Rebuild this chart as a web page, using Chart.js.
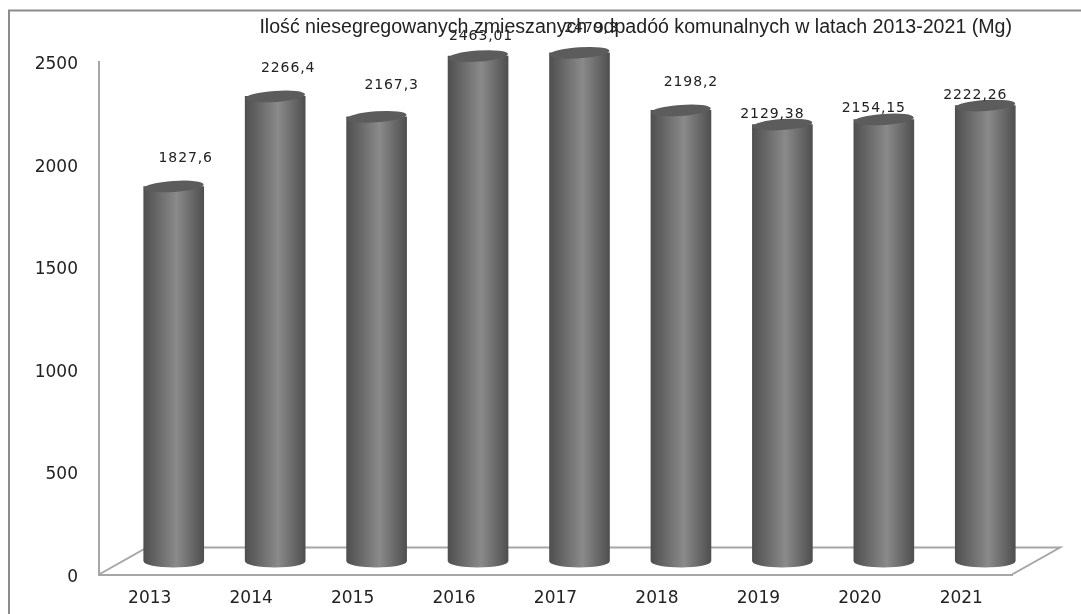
<!DOCTYPE html>
<html>
<head>
<meta charset="utf-8">
<style>
  html, body { margin: 0; padding: 0; background: #fff; }
  #wrap { width: 1081px; height: 614px; }
</style>
</head>
<body>
<div id="wrap"><canvas id="myChart" width="1081" height="614"></canvas></div>
<script src="https://cdn.jsdelivr.net/npm/chart.js@4"></script>
<script>
const years = ['2013', '2014', '2015', '2016', '2017', '2018', '2019', '2020', '2021']
const amounts = [1827.6, 2266.4, 2167.3, 2463.01, 2479.3, 2198.2, 2129.38, 2154.15, 2222.26]
const amountLabels = ['1827,6', '2266,4', '2167,3', '2463,01', '2479,3', '2198,2', '2129,38', '2154,15', '2222,26']
const yTicks = [0, 500, 1000, 1500, 2000, 2500]
const titleText = 'Ilość niesegregowanych zmieszanych odpadóó komunalnych w latach 2013-2021 (Mg)'

// the 3D look: floor depth, and how far the cylinders stand back from the axis
const depthX = 48, depthY = 27
const barShiftX = 24, barShiftY = 13
// label shift from the middle of each cylinder top, hand placed like in the original
const labelDx = [12, 13, 15, 3, 12, 10, -10, -10, -10]
const labelDy = [-28, -28, -31, -20, -24, -28, -10, -11, -10]

const cylinderGradient = (ctx, x, half) => {
  const g = ctx.createLinearGradient(x - half, 0, x + half, 0)
  g.addColorStop(0, '#4f4f4f')
  g.addColorStop(0.55, '#8a8a8a')
  g.addColorStop(1, '#4f4f4f')
  return g
}

const frameAndFloor = {
  id: 'frameAndFloor',
  beforeDatasetsDraw(chart) {
    const { ctx, chartArea: a } = chart
    ctx.save()
    ctx.strokeStyle = '#a6a6a6'
    ctx.lineWidth = 2
    ctx.beginPath()
    ctx.moveTo(a.left, a.bottom)
    ctx.lineTo(a.left + depthX, a.bottom - depthY)
    ctx.lineTo(a.right + depthX, a.bottom - depthY)
    ctx.lineTo(a.right, a.bottom)
    ctx.stroke()
    // outer border of the picture
    ctx.strokeStyle = '#8c8c8c'
    ctx.beginPath()
    ctx.moveTo(9, 614)
    ctx.lineTo(9, 10.5)
    ctx.lineTo(1081, 10.5)
    ctx.stroke()
    ctx.restore()
  },
}

const cylinders = {
  id: 'cylinders',
  beforeDatasetsDraw(chart) {
    const ctx = chart.ctx
    ctx.save()
    ctx.translate(barShiftX, -barShiftY)
    chart.getDatasetMeta(0).data.forEach((bar) => {
      // bottom cap first, the bar body covers its upper half
      const rx = bar.width / 2
      ctx.fillStyle = cylinderGradient(ctx, bar.x, rx)
      ctx.beginPath()
      ctx.ellipse(bar.x, bar.base, rx, 6, 0, 0, Math.PI * 2)
      ctx.fill()
    })
  },
  afterDatasetsDraw(chart) {
    const ctx = chart.ctx
    chart.getDatasetMeta(0).data.forEach((bar, i) => {
      ctx.fillStyle = '#5c5c5c'
      ctx.beginPath()
      ctx.ellipse(bar.x, bar.y, bar.width / 2, 5.5, -0.07, 0, Math.PI * 2)
      ctx.fill()
      ctx.fillStyle = '#222'
      ctx.font = '14px "DejaVu Sans"'
      ctx.letterSpacing = '0.9px'
      ctx.textAlign = 'center'
      ctx.textBaseline = 'middle'
      ctx.fillText(amountLabels[i], bar.x + labelDx[i], bar.y + labelDy[i])
    })
    ctx.restore()
  },
}

new Chart(document.getElementById('myChart'), {
  type: 'bar',
  plugins: [frameAndFloor, cylinders],
  data: {
    labels: years,
    datasets: [{
      label: 'Mg',
      data: amounts,
      backgroundColor(context) {
        const { chart, dataIndex } = context
        const x = chart.scales.x ? chart.scales.x.getPixelForValue(dataIndex) : NaN
        if (!Number.isFinite(x)) return '#777'
        return cylinderGradient(chart.ctx, x, 30)
      },
      barThickness: 60,
    }],
  },
  options: {
    responsive: false,
    animation: false,
    layout: { padding: { left: 0, right: 69, top: 0, bottom: 0 } },
    plugins: {
      legend: { display: false },
      tooltip: { enabled: false },
      title: {
        display: true,
        text: titleText,
        align: 'end',
        color: '#222',
        font: { family: '"Liberation Sans"', size: 19.6, weight: 'normal' },
        padding: { top: 16, bottom: 22 },
      },
    },
    scales: {
      x: {
        afterFit(axis) { axis.height = 39.5 },
        grid: { display: false, drawTicks: false },
        border: { color: '#a6a6a6', width: 2 },
        ticks: { color: '#222', font: { family: '"DejaVu Sans"', size: 17 }, padding: 14, maxRotation: 0 },
      },
      y: {
        min: 0,
        max: 2500,
        afterBuildTicks(axis) { axis.ticks = yTicks.map((v) => ({ value: v })) },
        afterFit(axis) { axis.width = 99 },
        grid: { display: false, drawTicks: false },
        border: { color: '#a6a6a6', width: 2 },
        ticks: { color: '#222', font: { family: '"DejaVu Sans"', size: 17 }, padding: 21, labelOffset: 3, callback: (v) => String(v) },
      },
    },
  },
})
</script>
</body>
</html>
